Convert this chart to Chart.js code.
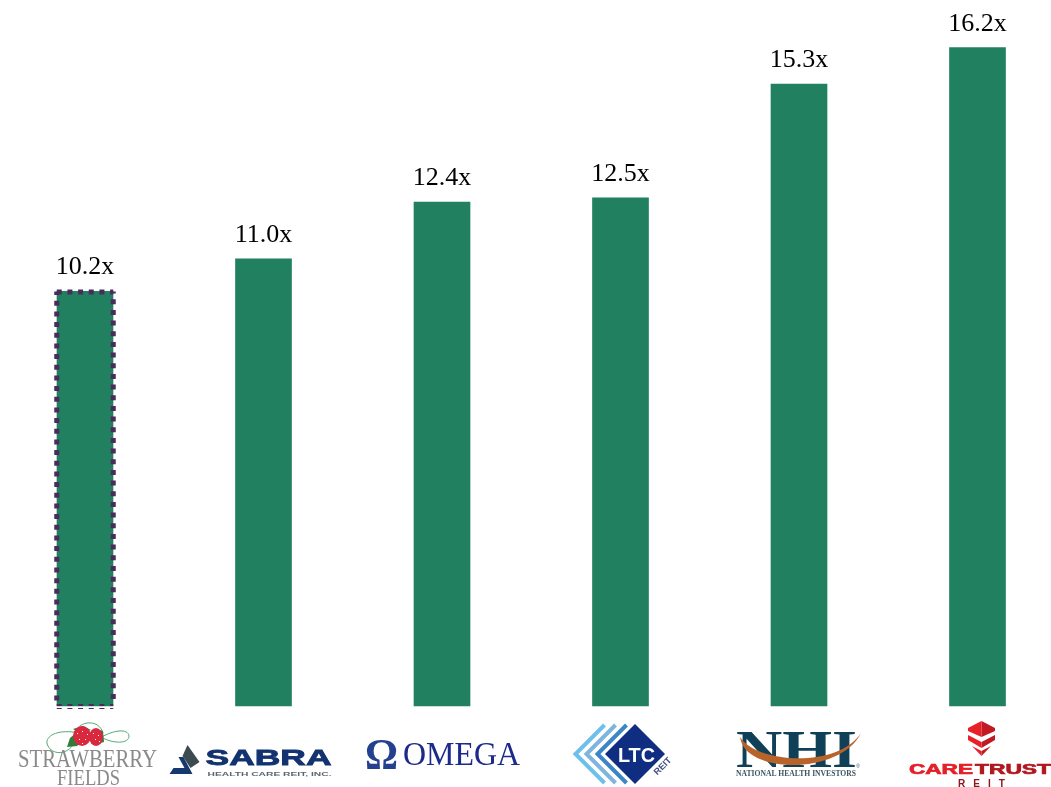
<!DOCTYPE html>
<html>
<head>
<meta charset="utf-8">
<title>Multiples</title>
<style>
  html, body { margin: 0; padding: 0; background: #fff; overflow: hidden; }
  canvas { display: block; }
</style>
<script src="https://cdn.jsdelivr.net/npm/chart.js@4"></script>
</head>
<body>
<canvas id="multiples" width="1051" height="787"></canvas>
<script>
const categories = ["Strawberry Fields", "Sabra", "Omega", "LTC", "NHI", "CareTrust"];
const multiples = [10.2, 11.0, 12.4, 12.5, 15.3, 16.2];
const highlighted = ["Strawberry Fields"];

const serif = '"Liberation Serif", serif';
const sans = '"Liberation Sans", sans-serif';

// width squeezes or stretches the text to that many pixels, heavy thickens it
function text(ctx, str, x, y, font, color, width, spacing, heavy) {
    ctx.save();
    ctx.font = font;
    ctx.fillStyle = color;
    ctx.textAlign = "center";
    ctx.textBaseline = "alphabetic";
    ctx.letterSpacing = spacing || "0px";
    ctx.translate(x, y);
    if (width) ctx.scale(width / ctx.measureText(str).width, 1);
    ctx.fillText(str, 0, 0);
    if (heavy) {
        ctx.strokeStyle = color;
        ctx.lineWidth = heavy;
        ctx.strokeText(str, 0, 0);
    }
    ctx.restore();
}

function poly(ctx, pts, color) {
    ctx.fillStyle = color;
    ctx.beginPath();
    pts.forEach((p, i) => i ? ctx.lineTo(p[0], p[1]) : ctx.moveTo(p[0], p[1]));
    ctx.closePath();
    ctx.fill();
}

function dashes(ctx, x1, y1, x2, y2, width) {
    ctx.lineWidth = width;
    ctx.beginPath();
    ctx.moveTo(x1, y1);
    ctx.lineTo(x2, y2);
    ctx.stroke();
}

// logos are drawn around the centre of their own bar
const logos = {
    "Strawberry Fields": (ctx, x) => {
        ctx.strokeStyle = "#4fa872";
        ctx.lineWidth = 1;
        ctx.beginPath();
        ctx.moveTo(x - 6, 733);
        ctx.bezierCurveTo(x - 30, 728, x - 42, 738, x - 37, 746);
        ctx.bezierCurveTo(x - 33, 754, x - 20, 756, x - 12, 745);
        ctx.bezierCurveTo(x - 8, 735, x - 12, 726, x + 2, 723);
        ctx.bezierCurveTo(x + 10, 722, x + 16, 726, x + 18, 733);
        ctx.moveTo(x + 16, 737);
        ctx.bezierCurveTo(x + 28, 744, x + 44, 744, x + 44, 736);
        ctx.bezierCurveTo(x + 43, 728, x + 28, 730, x + 15, 738);
        ctx.stroke();
        poly(ctx, [[x - 18, 747], [x - 15, 738], [x - 9, 733], [x - 3, 741], [x - 8, 746]], "#2f7d3a");
        poly(ctx, [[x - 12, 729], [x - 2, 726], [x + 6, 730], [x - 4, 734]], "#2f7d3a");
        poly(ctx, [[x + 11, 729], [x + 18, 731], [x + 19, 742], [x + 12, 744]], "#2f7d3a");
        ctx.fillStyle = "#d8293f";
        ctx.beginPath();
        ctx.ellipse(x + 11, 737, 7, 9, 0, 0, Math.PI * 2);
        ctx.fill();
        ctx.beginPath();
        ctx.ellipse(x - 3, 736, 9, 10, 0, 0, Math.PI * 2);
        ctx.fill();
        ctx.fillStyle = "#ffffff";
        [[-8, 733], [-3, 731], [2, 734], [-6, 739], [0, 739], [-3, 743], [8, 733], [13, 735], [10, 739], [14, 741]].forEach(p => {
            ctx.fillRect(x + p[0], p[1], 1, 1);
        });
        text(ctx, "STRAWBERRY", x + 2.5, 767, "26px " + serif, "#8a8a8a", 139);
        text(ctx, "FIELDS", x + 3.5, 785, "23px " + serif, "#8a8a8a", 63);
    },
    "Sabra": (ctx, x) => {
        poly(ctx, [[x - 85, 757], [x - 80, 757], [x - 71, 774], [x - 94, 774], [x - 90, 768], [x - 79, 768]], "#16386f");
        poly(ctx, [[x - 76, 745], [x - 64, 762], [x - 73, 768], [x - 81, 756]], "#3c4a52");
        text(ctx, "SABRA", x + 5, 765, "bold 22px " + sans, "#12336f", 126, null, 0.8);
        text(ctx, "HEALTH CARE REIT, INC.", x + 6, 776, "bold 6px " + sans, "#5c6670", 124);
    },
    "Omega": (ctx, x) => {
        const g = ctx.createLinearGradient(x - 77, 0, x - 44, 0);
        g.addColorStop(0, "#23418f");
        g.addColorStop(0.55, "#8d9cc0");
        g.addColorStop(1, "#9aa0a8");
        text(ctx, "Ω", x - 60.5, 769, "bold 45px " + serif, g, 33);
        text(ctx, "OMEGA", x + 19.5, 765, "33px " + serif, "#1c2a8c", 117);
    },
    "LTC": (ctx, x) => {
        ["#6cc0ea", "#7fb4de", "#3d86c6"].forEach((c, i) => {
            const dx = i * 11;
            ctx.strokeStyle = c;
            ctx.lineWidth = 4;
            ctx.beginPath();
            ctx.moveTo(x - 16 + dx, 725);
            ctx.lineTo(x - 45 + dx, 754);
            ctx.lineTo(x - 16 + dx, 783);
            ctx.stroke();
        });
        poly(ctx, [[x + 14.5, 724], [x + 44.5, 754], [x + 14.5, 784], [x - 15.5, 754]], "#0f2e82");
        text(ctx, "LTC", x + 16, 762, "bold 21px " + sans, "#ffffff", 37);
        ctx.save();
        ctx.translate(x + 42, 766);
        ctx.rotate(-Math.PI / 4);
        text(ctx, "REIT", 0, 3, "bold 9px " + sans, "#3f4f85", 21);
        ctx.restore();
    },
    "NHI": (ctx, x) => {
        text(ctx, "NHI", x - 2.5, 767, "bold 53px " + serif, "#0f4058", 121);
        ctx.fillStyle = "#b8632a";
        ctx.beginPath();
        ctx.moveTo(x - 59, 737);
        ctx.bezierCurveTo(x - 54, 775, x + 42, 775, x + 62, 733);
        ctx.bezierCurveTo(x + 40, 768, x - 42, 764, x - 59, 737);
        ctx.fill();
        text(ctx, "NATIONAL HEALTH INVESTORS", x - 3, 776, "bold 8px " + serif, "#3d5560", 120);
        text(ctx, "®", x + 59, 768, "5px " + sans, "#3d5560");
    },
    "CareTrust": (ctx, x) => {
        const cx = x + 4;
        poly(ctx, [[cx, 721], [cx - 13.5, 728], [cx - 13.5, 731], [cx, 737]], "#ea2029");
        poly(ctx, [[cx, 721], [cx + 13.5, 728], [cx + 13.5, 731], [cx, 737]], "#c21a22");
        poly(ctx, [[cx - 13.5, 735], [cx, 742], [cx, 748], [cx - 13.5, 740]], "#ea2029");
        poly(ctx, [[cx + 13.5, 735], [cx, 742], [cx, 748], [cx + 13.5, 740]], "#c21a22");
        poly(ctx, [[cx - 9.5, 746], [cx, 751], [cx, 756]], "#ea2029");
        poly(ctx, [[cx + 9.5, 746], [cx, 751], [cx, 756]], "#c21a22");
        text(ctx, "CARE", x - 36.5, 774, "bold 14.5px " + sans, "#e5202a", 64, null, 0.7);
        text(ctx, "TRUST", x + 35.5, 774, "bold 14.5px " + sans, "#b01820", 76, null, 0.7);
        text(ctx, "REIT", cx + 4, 787, "bold 10px " + sans, "#8a1a20", null, "8px");
    }
};

const extras = {
    id: "extras",
    afterDatasetsDraw(chart) {
        const ctx = chart.ctx;
        const bars = chart.getDatasetMeta(0).data;
        ctx.save();
        bars.forEach((bar, i) => {
            text(ctx, multiples[i].toFixed(1) + "x", bar.x, bar.y - 17, "26px " + serif, "#000000");
            if (highlighted.includes(categories[i])) {
                const half = bar.width / 2 + 0.25;
                const left = bar.x - half;
                const right = bar.x + half;
                ctx.strokeStyle = "#4a2c5a";
                ctx.setLineDash([5, 5.67]);
                dashes(ctx, left, bar.base - 5.5, left, bar.y, 5);
                dashes(ctx, right, bar.base - 7, right, bar.y, 5);
                dashes(ctx, left, bar.y + 0.5, right, bar.y + 0.5, 5);
                dashes(ctx, left, bar.base - 1, right, bar.base - 1, 2);
                dashes(ctx, left, bar.base + 2.5, right, bar.base + 2.5, 1);
                ctx.setLineDash([]);
            }
            logos[categories[i]](ctx, bar.x);
        });
        ctx.restore();
    }
};

new Chart(document.querySelector("#multiples"), {
    type: "bar",
    data: {
        labels: categories,
        datasets: [{
            data: multiples,
            backgroundColor: "#21805f",
            barThickness: 56,
            clip: false
        }]
    },
    options: {
        responsive: false,
        animation: false,
        events: [],
        layout: { padding: { left: 85, right: 73.5, top: 47.5, bottom: 81 } },
        plugins: { legend: { display: false }, tooltip: { enabled: false } },
        scales: {
            x: { display: false, offset: false, grid: { display: false } },
            y: { display: false, min: 0, max: 16.2, grid: { display: false } }
        }
    },
    plugins: [extras]
});
</script>
</body>
</html>
